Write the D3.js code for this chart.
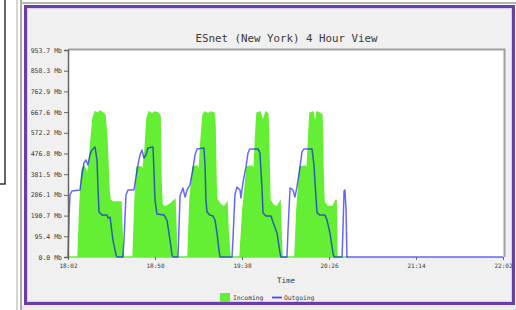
<!DOCTYPE html>
<html>
<head>
<meta charset="utf-8">
<script src="https://cdn.jsdelivr.net/npm/d3@7"></script>
<style>
    html, body { margin: 0; padding: 0; background: #fff; }
    svg { display: block; }
    text { font-family: "DejaVu Sans Mono", "Liberation Mono", monospace; fill: #3a3a3a; }
</style>
</head>
<body>
<svg width="516" height="310"></svg>
<script>
// Minutes after 18:02, value in Mb.
var incomingTime = [0, 5.5, 6.6, 7.7, 8.8, 9.9, 10.5, 11.6, 12.7, 13.8, 14.9, 16.6, 17.7, 19.3, 20.4, 21.5, 22.6, 23.2, 24.8, 27.6, 29.2, 29.8, 30.3,
    35.9, 37, 38.1, 40.3, 41.4, 42.5, 43.6, 44.7, 46.3, 48, 49.7, 50.8, 51.3, 51.9, 53.5, 56.3, 59, 59.6, 60.1,
    66.2, 67.3, 69, 71.2, 72.3, 73.4, 74.5, 75.6, 77.2, 78.9, 80.5, 81.1, 81.7, 82.2, 83.9, 86.1, 87.7, 88.3, 89.4,
    94.9, 96.5, 98.8, 101.5, 102.6, 103.7, 104.3, 105.9, 107, 107.6, 108.1, 109.2, 110.3, 110.9, 111.4, 113.1, 115.3, 117, 117.5, 118.1,
    125.2, 126.3, 128, 130.8, 131.9, 133, 133.5, 135.2, 136.3, 137.4, 139, 140.1, 140.7, 141.2, 143.4, 146.2, 147.9, 148.4, 154.5];
var incomingMb = [0, 0, 240, 401, 419, 401, 369, 424, 539, 640, 668, 663, 673, 663, 654, 539, 309, 263, 253, 253, 253, 124, 0,
    0, 263, 415, 415, 401, 493, 640, 668, 659, 668, 663, 650, 355, 240, 230, 244, 263, 124, 0,
    0, 263, 415, 419, 392, 539, 654, 668, 659, 668, 663, 608, 332, 263, 244, 230, 249, 124, 0,
    0, 217, 415, 419, 392, 585, 663, 668, 640, 608, 640, 668, 659, 447, 263, 240, 230, 253, 124, 0,
    0, 217, 415, 419, 401, 585, 663, 668, 608, 668, 663, 654, 401, 253, 230, 235, 263, 0, 0];

var outgoingTime = [0, 0.6, 1.1, 2.2, 6.6, 7.7, 8.8, 9.9, 11, 12.1, 13.2, 14.9, 16, 16.6, 17.1, 18.8, 21.5, 22.1, 23.2, 24.8, 26.5, 27, 30.3,
    30.9, 32, 33.1, 36.4, 38.1, 39.7, 40.8, 41.9, 43, 44.1, 46.9, 47.4, 48, 49.1, 53, 54.6, 56.3, 57.4, 57.9, 60.7,
    61.2, 61.8, 63.4, 64.6, 65.7, 67.3, 69, 70.1, 71.2, 75, 75.6, 76.1, 76.7, 78.3, 80, 81.1, 82.2, 83.3, 83.9, 90.5,
    91, 92.1, 93.2, 94.9, 95.4, 96.5, 98.2, 99.3, 100.4, 104.8, 105.9, 107, 107.6, 109.2, 112, 113.1, 115.3, 117, 117.5, 120.8,
    121.4, 122.5, 124.1, 125.2, 126.3, 128, 129.1, 130.2, 134.6, 135.7, 136.3, 137.4, 139, 141.8, 142.9, 144.5, 146.2, 146.8,
    151.2, 151.7, 152.3, 152.8, 153.4, 153.9, 240];
var outgoingMb = [0, 193, 286, 304, 309, 378, 433, 447, 424, 470, 493, 507, 447, 309, 207, 193, 193, 180, 184, 78, 9, 0, 0,
    78, 286, 309, 309, 401, 470, 493, 456, 470, 502, 507, 401, 263, 198, 193, 170, 78, 9, 0, 0,
    124, 281, 318, 276, 309, 332, 410, 470, 498, 502, 424, 263, 207, 193, 189, 170, 111, 32, 0, 0,
    78, 286, 322, 309, 272, 341, 415, 479, 498, 498, 479, 322, 203, 189, 189, 161, 111, 18, 0, 0,
    124, 318, 309, 276, 322, 415, 484, 498, 498, 424, 341, 203, 193, 193, 170, 111, 18, 0,
    0, 124, 304, 309, 217, 0, 0];

var yTicks = [0, 95.4, 190.7, 286.1, 381.5, 476.8, 572.2, 667.6, 762.9, 858.3, 953.7];
var xTicks = [0, 48, 96, 144, 192, 240];
var xTickLabels = ["18:02", "18:50", "19:38", "20:26", "21:14", "22:02"];
var title = "ESnet (New York) 4 Hour View";
var seriesNames = ["Incoming", "Outgoing"];

function render() {
    const left = 68, right = 503, top = 50, bottom = 257;
    const green = "#64ee34";
    const blue = "#0000ff";

    var svg = d3.select("svg");

    // page chrome around the graph
    svg.append("line").attr("x1", 5).attr("y1", 0).attr("x2", 5).attr("y2", 184)
        .attr("stroke", "#333").attr("stroke-width", 1.5);
    svg.append("line").attr("x1", 0).attr("y1", 184).attr("x2", 5.75).attr("y2", 184)
        .attr("stroke", "#333").attr("stroke-width", 1.5);
    svg.append("rect").attr("x", 16).attr("y", 0).attr("width", 2).attr("height", 310).attr("fill", "#d4d4d4");
    svg.append("rect").attr("x", 20).attr("y", 0).attr("width", 2).attr("height", 310).attr("fill", "#a8a8a8");
    svg.append("rect").attr("x", 20).attr("y", 2).attr("width", 496).attr("height", 2).attr("fill", "#b4b4b4");
    svg.append("rect").attr("x", 22).attr("y", 305).attr("width", 494).attr("height", 5).attr("fill", "#ececec");

    svg.append("rect")
        .attr("x", 25.5).attr("y", 6.5)
        .attr("width", 488).attr("height", 297)
        .attr("fill", "#f0f0f0")
        .attr("stroke", "#6a3ea6")
        .attr("stroke-width", 3);
    svg.append("rect")
        .attr("x", 27.5).attr("y", 8.5)
        .attr("width", 484).attr("height", 293)
        .attr("fill", "none")
        .attr("stroke", "#d8d0ea")
        .attr("stroke-width", 1);

    var x = d3.scaleLinear().domain([0, 240]).range([left, right]);
    var y = d3.scaleLinear().domain([0, yTicks[yTicks.length - 1]]).range([bottom, top]);

    // plot background and frame
    svg.append("rect")
        .attr("x", left).attr("y", top)
        .attr("width", right - left + 1).attr("height", bottom - top)
        .attr("fill", "#fff");
    svg.append("path")
        .attr("d", "M" + left + "," + (top - 0.5) + "H" + (right + 1.5) + "V" + bottom)
        .attr("fill", "none").attr("stroke", "#a0a0a0").attr("stroke-width", 2);

    var incoming = incomingTime.map(function (t, i) { return [t, incomingMb[i]]; });
    var outgoing = outgoingTime.map(function (t, i) { return [t, outgoingMb[i]]; });

    var area = d3.area()
        .x(function (d) { return x(d[0]); })
        .y0(bottom)
        .y1(function (d) { return y(d[1]); });

    var line = d3.line()
        .x(function (d) { return x(d[0]); })
        .y(function (d) { return y(d[1]); });

    svg.append("path")
        .datum(incoming)
        .attr("d", area)
        .attr("fill", green)
        .attr("stroke", green)
        .attr("stroke-width", 1.5);

    svg.append("path")
        .datum(outgoing)
        .attr("d", line)
        .attr("fill", "none")
        .attr("stroke", blue)
        .attr("stroke-opacity", 0.6)
        .attr("stroke-width", 1.5)
        .attr("stroke-linejoin", "round");

    // axes
    var yAxis = d3.axisLeft(y)
        .tickValues(yTicks)
        .tickSize(4)
        .tickPadding(2)
        .tickFormat(function (d) { return d3.format(".1f")(d) + " Mb"; });

    var gy = svg.append("g")
        .attr("transform", "translate(" + left + ",0)")
        .call(yAxis);
    gy.select(".domain").attr("stroke", "#666").attr("stroke-width", 1.5);
    gy.selectAll(".tick line").attr("stroke", "#666");
    gy.selectAll(".tick text")
        .attr("font-size", 6.5)
        .attr("font-family", "DejaVu Sans Mono")
        .attr("fill", "#3a3a3a");

    var xAxis = d3.axisBottom(x)
        .tickValues(xTicks)
        .tickSize(3)
        .tickPadding(4)
        .tickFormat(function (d, i) { return xTickLabels[i]; });

    var gx = svg.append("g")
        .attr("transform", "translate(0," + bottom + ")")
        .call(xAxis);
    gx.select(".domain").remove();
    gx.selectAll(".tick line").attr("stroke", "#666");
    gx.selectAll(".tick text")
        .attr("font-size", 6)
        .attr("font-family", "DejaVu Sans Mono")
        .attr("fill", "#3a3a3a");

    // title and axis name
    svg.append("text")
        .attr("x", (left + right) / 2 + 1)
        .attr("y", 42)
        .attr("text-anchor", "middle")
        .attr("font-size", 10.8)
        .attr("fill", "#444")
        .text(title);

    svg.append("text")
        .attr("x", 286)
        .attr("y", 283)
        .attr("text-anchor", "middle")
        .attr("font-size", 7.5)
        .text("Time");

    // legend
    var legend = svg.append("g").attr("transform", "translate(220,293)");
    legend.append("rect")
        .attr("width", 10).attr("height", 9)
        .attr("fill", green);
    legend.append("text")
        .attr("x", 13).attr("y", 6.5)
        .attr("font-size", 6.3)
        .text(seriesNames[0]);
    legend.append("line")
        .attr("x1", 52).attr("y1", 4.5).attr("x2", 62).attr("y2", 4.5)
        .attr("stroke", blue).attr("stroke-opacity", 0.7).attr("stroke-width", 1.8);
    legend.append("text")
        .attr("x", 64).attr("y", 6.5)
        .attr("font-size", 6.3)
        .text(seriesNames[1]);
}

render();
</script>
</body>
</html>
